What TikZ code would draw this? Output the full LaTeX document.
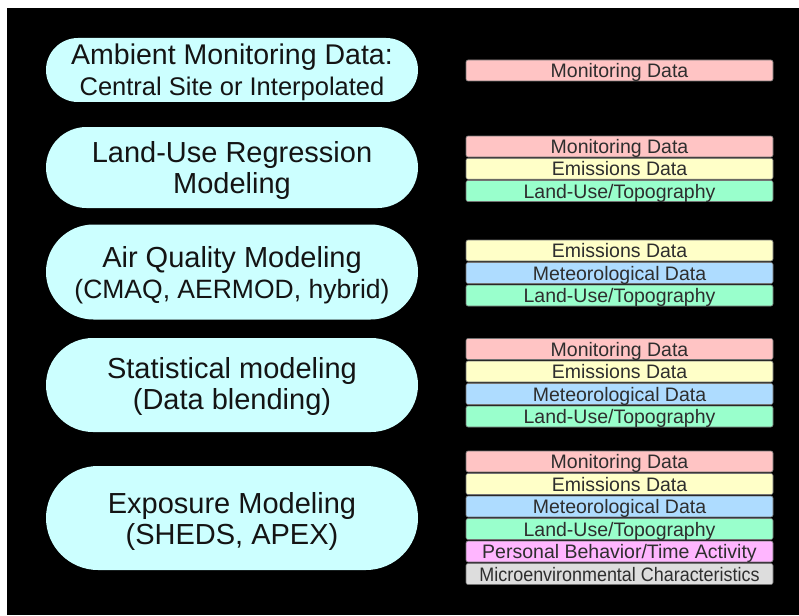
\documentclass[tikz,border=0pt]{standalone}
\usepackage{fontspec}
\setmainfont{Liberation Sans}
\usetikzlibrary{shapes.misc}

\definecolor{pillcyan}{HTML}{CCFFFF}
\definecolor{monpink}{HTML}{FFC4C4}
\definecolor{emiyellow}{HTML}{FFFFC8}
\definecolor{metblue}{HTML}{AEDCFF}
\definecolor{landgreen}{HTML}{99FFCC}
\definecolor{persmag}{HTML}{FFB6FF}
\definecolor{microgray}{HTML}{DDDDDD}

\begin{document}
\begin{tikzpicture}[x=1pt,y=-1pt,
  pill/.style={rounded rectangle, fill=pillcyan, minimum width=372pt,
    inner sep=0pt},
  modeltext/.style={inner sep=0pt, align=center, text=black!92,
    font=\fontsize{29}{31}\selectfont},
  datum/.style={draw=black!55, line width=0.6pt, rounded corners=2pt,
    minimum width=307pt, minimum height=21pt, inner sep=0pt,
    text height=14pt, text depth=0pt, text=black!82,
    font=\fontsize{19.5}{19.5}\selectfont},
  mon/.style={datum, fill=monpink},
  emi/.style={datum, fill=emiyellow},
  met/.style={datum, fill=metblue},
  land/.style={datum, fill=landgreen},
  pers/.style={datum, fill=persmag},
  micro/.style={datum, fill=microgray}]

% page and dark panel
\useasboundingbox (0,0) rectangle (799,615);
\fill[white] (0,0) rectangle (799,615);
\fill[black] (7,8) rectangle (799,615);

% modelling approaches
\node[pill, minimum height=64pt] (ambient) at (232,70) {};
\node[modeltext] (ambient-t) at ([yshift=-2pt]ambient.center)
  {{\fontsize{28.5}{30}\selectfont Ambient Monitoring Data:}\\{\fontsize{25.5}{29}\selectfont Central Site or Interpolated}};

\node[pill, minimum height=81pt] (lur) at (232,167.5) {};
\node[modeltext] (lur-t) at ([yshift=-3pt]lur.center)
  {Land-Use Regression\\Modeling};

\node[pill, minimum height=95pt] (aqm) at (232,272) {};
\node[modeltext] (aqm-t) at ([yshift=-3pt]aqm.center)
  {Air Quality Modeling\\{\fontsize{26.5}{31}\selectfont (CMAQ, AERMOD, hybrid)}};

\node[pill, minimum height=94pt] (stat) at (232,385) {};
\node[modeltext] (stat-t) at ([yshift=-1pt]stat.center)
  {Statistical modeling\\(Data blending)};

\node[pill, minimum height=104pt] (expo) at (232,518) {};
\node[modeltext] (expo-t) at ([yshift=-3pt]expo.center)
  {Exposure Modeling\\(SHEDS, APEX)};

% data inputs for each approach
\node[mon] (a1) at (619.5,70.5) {Monitoring Data};

\node[mon]  (b1) at (619.5,146.5) {Monitoring Data};
\node[emi]  (b2) at (619.5,168.75) {Emissions Data};
\node[land] (b3) at (619.5,191) {Land-Use/Topography};

\node[emi]  (c1) at (619.5,250.5) {Emissions Data};
\node[met]  (c2) at (619.5,273) {Meteorological Data};
\node[land] (c3) at (619.5,295.5) {Land-Use/Topography};

\node[mon]  (d1) at (619.5,349) {Monitoring Data};
\node[emi]  (d2) at (619.5,371.5) {Emissions Data};
\node[met]  (d3) at (619.5,394) {Meteorological Data};
\node[land] (d4) at (619.5,416.5) {Land-Use/Topography};

\node[mon]   (e1) at (619.5,461.5) {Monitoring Data};
\node[emi]   (e2) at (619.5,484) {Emissions Data};
\node[met]   (e3) at (619.5,506.5) {Meteorological Data};
\node[land]  (e4) at (619.5,529) {Land-Use/Topography};
\node[pers]  (e5) at (619.5,551.5) {Personal Behavior/Time Activity};
\node[micro] (e6) at (619.5,574) {\scalebox{0.92}[1]{Microenvironmental Characteristics}};

\end{tikzpicture}
\end{document}
